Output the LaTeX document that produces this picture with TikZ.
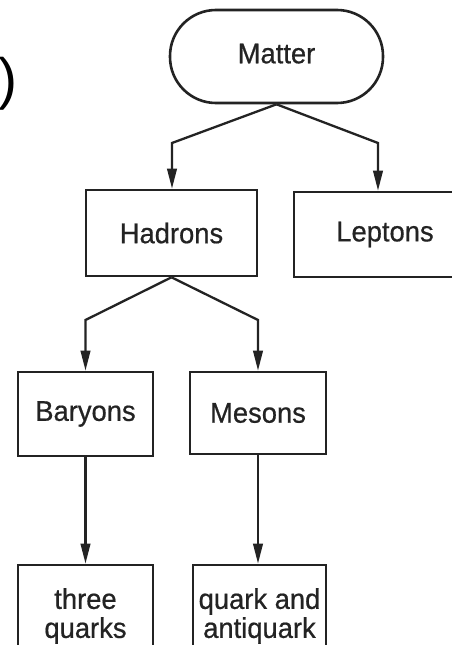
\documentclass[tikz,border=0pt]{standalone}
\usepackage{fontspec}
\setmainfont{Liberation Sans}
\newfontfamily\diagfont[FakeBold=0.6,FakeStretch=0.96]{Liberation Sans}
\usetikzlibrary{arrows.meta}
\definecolor{ink}{RGB}{35,35,35}
\begin{document}
\begin{tikzpicture}[x=1pt,y=-1pt,
  box/.style={draw=ink,line width=2.6pt,inner sep=0pt,align=center,text=ink,
    font=\diagfont\fontsize{28.5}{29}\selectfont},
  conn/.style={draw=ink,line width=2.3pt,-{Triangle[length=20pt,width=9.5pt]}}]
\useasboundingbox[fill=white] (0,0) rectangle (452,645);
\clip (0,0) rectangle (452,645);
\node[anchor=west,inner sep=0pt,font=\fontsize{57}{60}\selectfont] (paren) at (-2,83.5) {)};
\node[box,rounded corners=46pt,minimum width=213pt,minimum height=93pt] (matter) at (276.5,56.5) {\raisebox{6pt}{Matter}};
\node[box,minimum width=171pt,minimum height=86pt] (hadrons) at (171.5,233) {Hadrons};
\node[box,minimum width=182pt,minimum height=85pt] (leptons) at (385,234.5) {Leptons};
\node[box,minimum width=135pt,minimum height=84pt] (baryons) at (85.5,414) {Baryons};
\node[box,minimum width=136pt,minimum height=82pt] (mesons) at (258,413) {Mesons};
\node[box,minimum width=135pt,minimum height=102pt] (three) at (85.5,616) {three\\quarks};
\node[box,minimum width=133pt,minimum height=102pt] (qa) at (259.5,616) {quark and\\antiquark};
\draw[conn] (matter.south) -- (172,143) -- (hadrons.north -| 172,0);
\draw[conn] (matter.south) -- (378,143) -- (leptons.north -| 378,0);
\draw[conn] (hadrons.south) -- (85.5,320) -- (baryons.north);
\draw[conn] (hadrons.south) -- (258,320) -- (mesons.north);
\draw[conn] (baryons.south) -- (three.north);
\draw[conn] (mesons.south) -- (mesons.south |- qa.north);
\end{tikzpicture}
\end{document}
